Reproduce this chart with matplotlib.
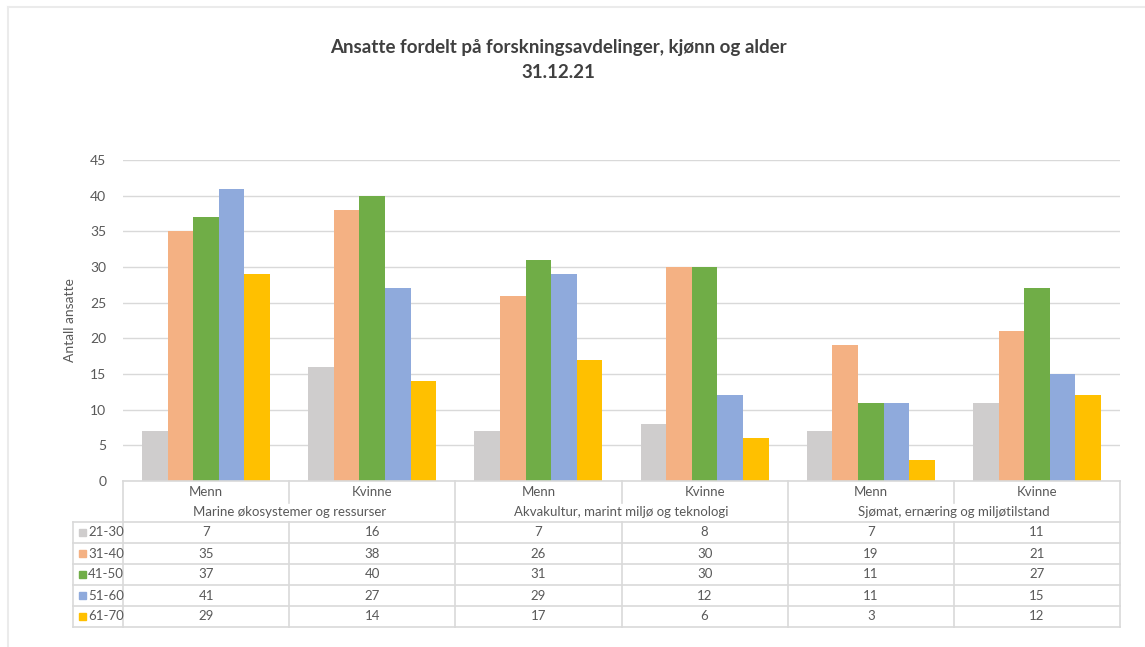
import numpy as np
import matplotlib
matplotlib.use("Agg")
import matplotlib.pyplot as plt
from matplotlib.lines import Line2D
from matplotlib.patches import Rectangle

plt.rcParams['font.family'] = ['Lato', 'DejaVu Sans']

# data
departments = ["Marine økosystemer og ressurser",
               "Akvakultur, marint miljø og teknologi",
               "Sjømat, ernæring og miljøtilstand"]
genders = ["Menn", "Kvinne"]
age_groups = ["21-30", "31-40", "41-50", "51-60", "61-70"]
a21_30 = [7, 16, 7, 8, 7, 11]
a31_40 = [35, 38, 26, 30, 19, 21]
a41_50 = [37, 40, 31, 30, 11, 27]
a51_60 = [41, 27, 29, 12, 11, 15]
a61_70 = [29, 14, 17, 6, 3, 12]
series = [a21_30, a31_40, a41_50, a51_60, a61_70]
colors = ["#CFCDCD", "#F4B183", "#70AD47", "#8FAADC", "#FFC000"]

W, H = 1145, 647
fig = plt.figure(figsize=(W / 100, H / 100), dpi=100)


def fx(px):
    return px / W


def fy(py):
    return 1 - py / H


txt = "#595959"
line_c = "#D9D9D9"

# plot area in pixels
L, R, T, B = 123, 1120, 160, 481
ax = fig.add_axes([fx(L), fy(B), fx(R) - fx(L), fy(T) - fy(B)])
n = len(a21_30)
x = np.arange(n)
bw = 0.154
for i, (s, c) in enumerate(zip(series, colors)):
    ax.bar(x + (i - 2) * bw, s, width=bw, color=c, zorder=3)
ax.set_xlim(-0.5, n - 0.5)
ax.set_ylim(0, 45)
ax.set_yticks(range(0, 46, 5))
ax.yaxis.grid(True, color=line_c, lw=1, zorder=0)
ax.set_xticks([])
for sp in ax.spines.values():
    sp.set_visible(False)
ax.tick_params(axis='y', length=0, labelsize=10, labelcolor=txt, pad=12)
ax.set_ylabel("Antall ansatte", fontsize=10, color=txt, labelpad=10)

# title
fig.text(fx(558), fy(48), "Ansatte fordelt på forskningsavdelinger, kjønn og alder",
         ha='center', va='center', fontsize=13.5, fontweight='bold', color="#404040")
fig.text(fx(558), fy(73), "31.12.21", ha='center', va='center',
         fontsize=13.5, fontweight='bold', color="#404040")

# table
col_w = (R - L) / n
rows_y = [522, 543, 564, 585, 606, 627]
TL = 73


def hline(x0, x1, y):
    fig.add_artist(Line2D([fx(x0), fx(x1)], [fy(y), fy(y)], color=line_c, lw=1.2))


def vline(xp, y0, y1):
    fig.add_artist(Line2D([fx(xp), fx(xp)], [fy(y0), fy(y1)], color=line_c, lw=1.2))


hline(L, R, B)
for yy in rows_y:
    hline(TL, R, yy)
vline(TL, rows_y[0], rows_y[-1])
for k in range(n + 1):
    xp = L + k * col_w
    if k % 2 == 0:
        vline(xp, B, rows_y[-1])
    else:
        vline(xp, B, 503)
        vline(xp, rows_y[0], rows_y[-1])

for k in range(n):
    cx = L + (k + 0.5) * col_w
    fig.text(fx(cx), fy(492), genders[k % 2], ha='center', va='center',
             fontsize=9.5, color=txt)
for d, dep in enumerate(departments):
    cx = L + (2 * d + 1) * col_w
    fig.text(fx(cx), fy(512), dep, ha='center', va='center', fontsize=9.5, color=txt)

for r, (s, c, lab) in enumerate(zip(series, colors, age_groups)):
    cy = (rows_y[r] + rows_y[r + 1]) / 2
    fig.add_artist(Rectangle((fx(79), fy(cy + 3.5)), fx(7), 7 / H, color=c))
    fig.text(fx(88), fy(cy), lab, ha='left', va='center', fontsize=9.5, color=txt)
    for k in range(n):
        cx = L + (k + 0.5) * col_w
        fig.text(fx(cx), fy(cy), str(s[k]), ha='center', va='center',
                 fontsize=9.5, color=txt)

# faint frame
fig.add_artist(Line2D([fx(8), 1], [fy(7), fy(7)], color="#EBEBEB", lw=1.5))
fig.add_artist(Line2D([fx(8), fx(8)], [fy(7), 0], color="#EBEBEB", lw=1.5))

fig.savefig("out.png", dpi=100)
